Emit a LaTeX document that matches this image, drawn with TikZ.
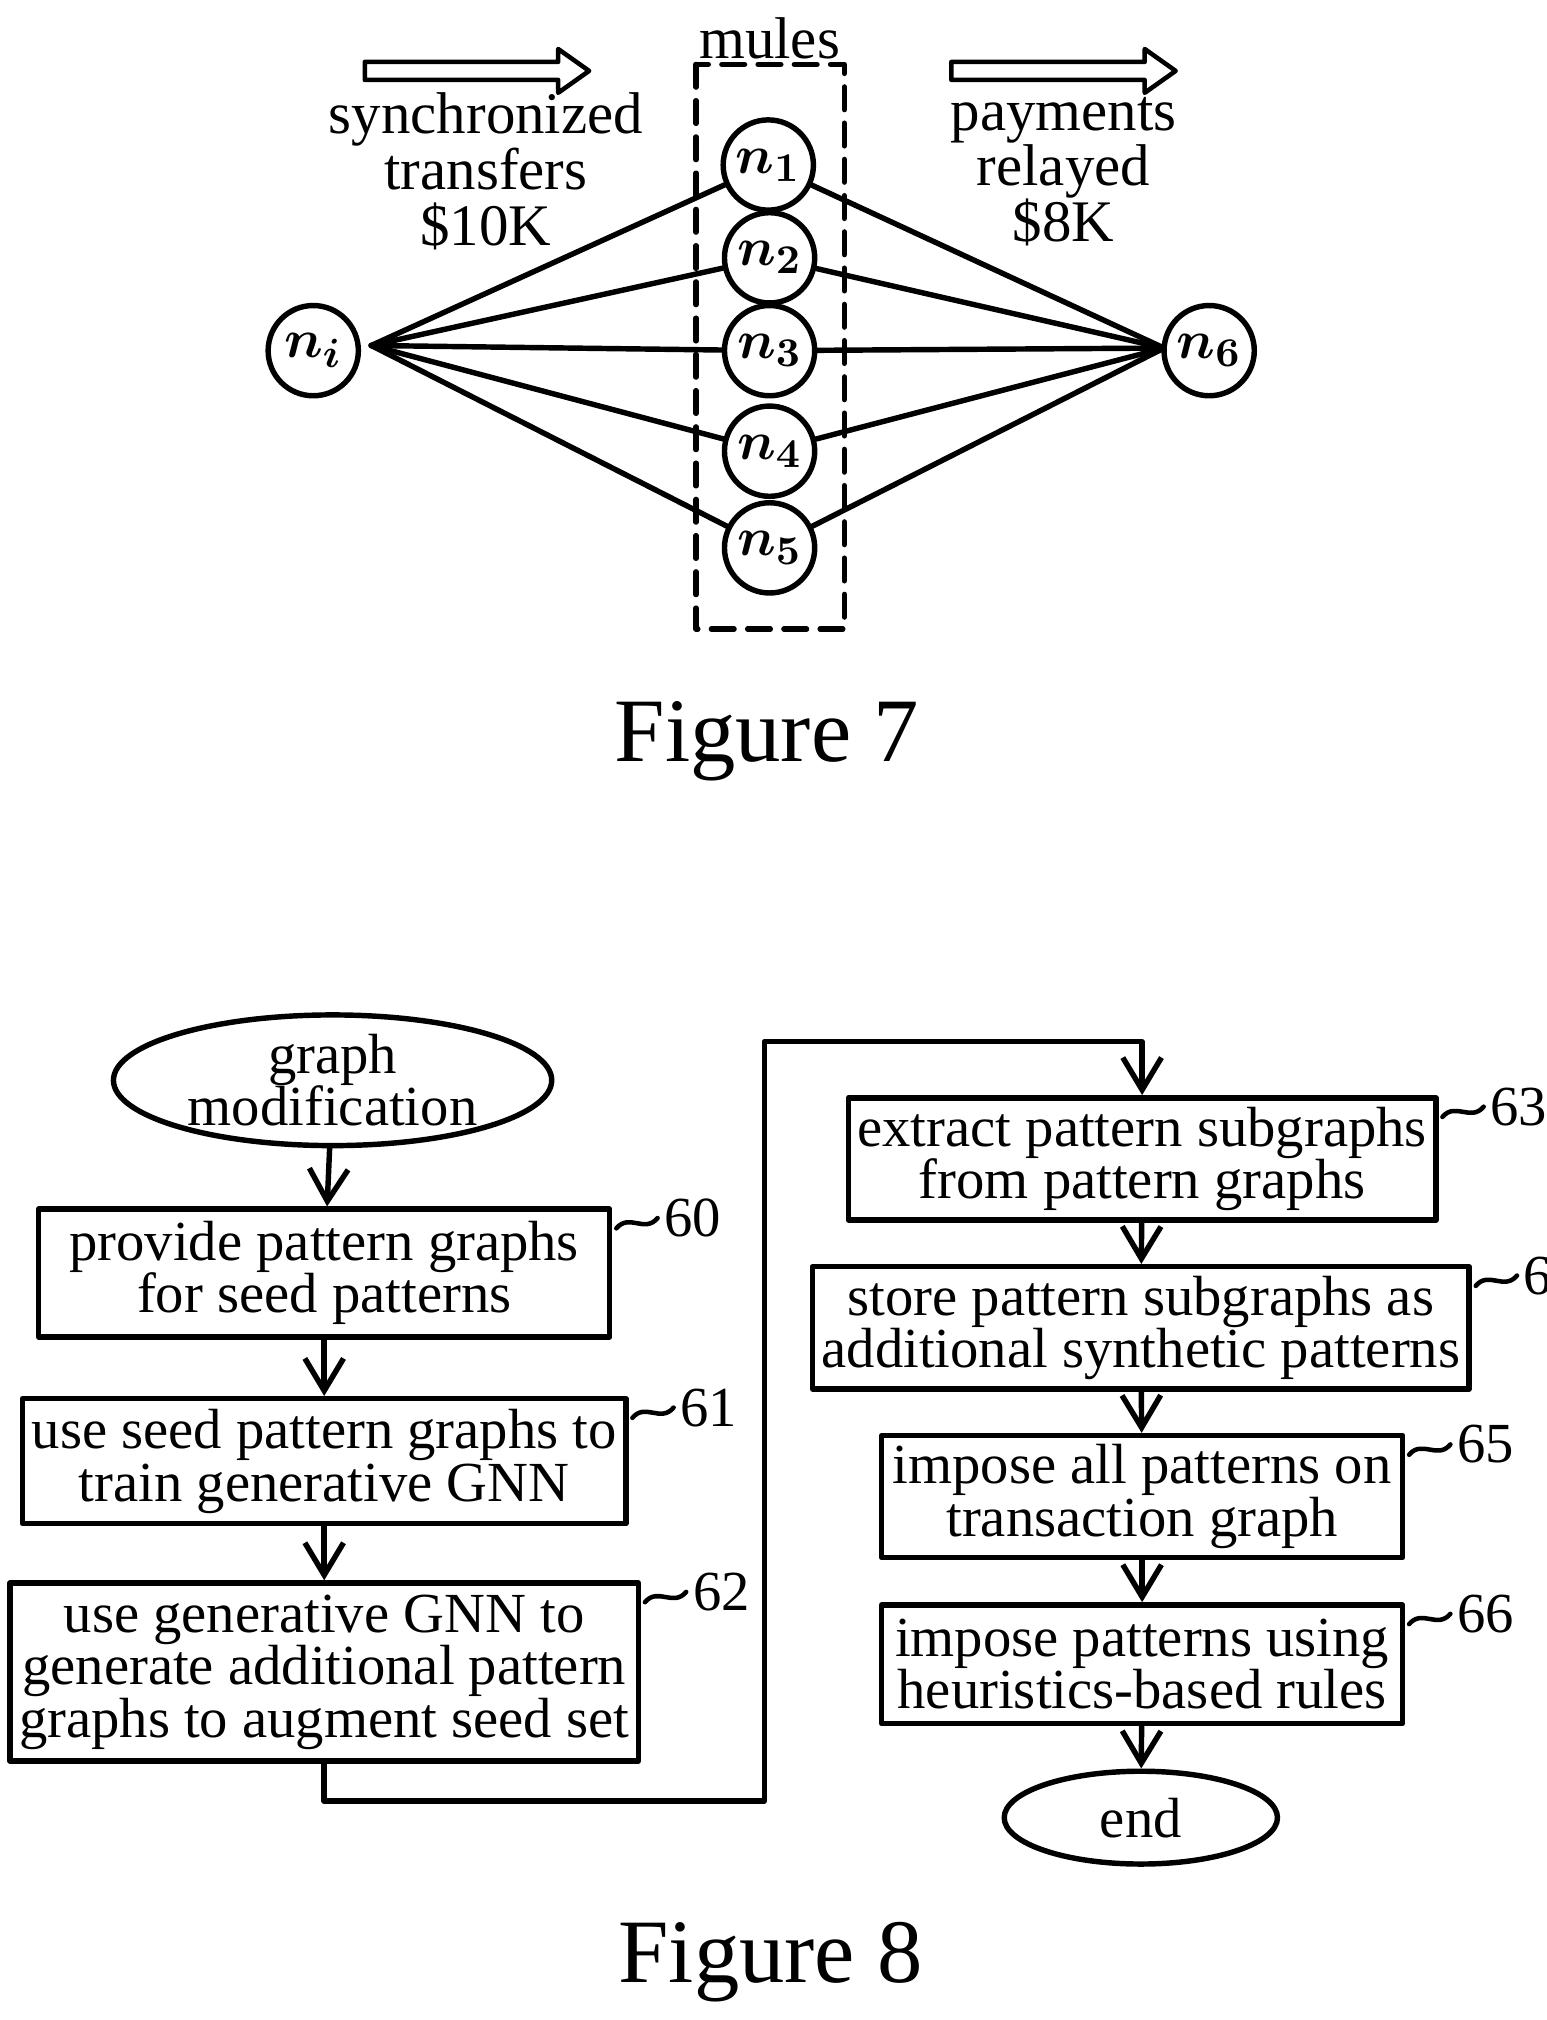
\documentclass[tikz,border=0pt]{standalone}
\usepackage{amsmath,bm}
\usepackage{fontspec}
\setmainfont{Liberation Serif}
\usetikzlibrary{positioning,shapes.geometric,calc,arrows.meta}
\tikzset{
  acct/.style={circle, draw, line width=1.2pt, minimum size=0.7cm, inner sep=0pt, font=\fontsize{13}{13}\selectfont\bfseries},
  task/.style={rectangle, draw, line width=1.2pt, align=center, inner sep=2pt, font=\fontsize{12.5}{11.6}\selectfont},
  term/.style={ellipse, draw, line width=1.2pt, align=center, inner sep=0pt, font=\fontsize{12.5}{11.6}\selectfont},
  flow/.style={line width=1.2pt, -{Straight Barb[length=2.5mm, width=3mm]}},
  edge/.style={line width=1.2pt},
  tag/.style={line width=1pt},
}
\newcommand{\refmark}[2]{%
  \draw[tag] ($(#1.north east)+(0.03,-0.17)$) .. controls +(0.1,0.12) and +(-0.1,-0.12) .. ++(0.32,0.08)
    node[right, inner sep=1pt, font=\fontsize{12.5}{12}\selectfont] {#2};}
\begin{document}
\begin{tikzpicture}[line cap=round, line join=round, x=1cm, y=1cm]
  \useasboundingbox (0,0) rectangle (12,-15.67);

  % Figure 7
  \node[acct] (ni) at (2.43,-2.72) {$\bm{n_i}$};
  \node[acct] (n1) at (5.96,-1.28) {$\bm{n_1}$};
  \node[acct] (n2) at (5.97,-2.00) {$\bm{n_2}$};
  \node[acct] (n3) at (5.97,-2.72) {$\bm{n_3}$};
  \node[acct] (n4) at (5.97,-3.50) {$\bm{n_4}$};
  \node[acct] (n5) at (5.97,-4.25) {$\bm{n_5}$};
  \node[acct] (n6) at (9.38,-2.72) {$\bm{n_6}$};
  \coordinate (src) at (2.88,-2.68);
  \coordinate (dst) at (9.03,-2.70);
  \foreach \k in {1,...,5} {
    \draw[edge] (src) -- (n\k);
    \draw[edge] (n\k) -- (dst);
  }
  \draw[edge, dash pattern=on 5pt off 3pt] (5.40,-0.50) rectangle (6.55,-4.88);
  \node[font=\fontsize{13}{13}\selectfont] (mules) at (5.97,-0.30) {mules};

  \draw[line width=1pt] (2.83,-0.48) -- (4.33,-0.48) -- (4.33,-0.38) -- (4.57,-0.55)
    -- (4.33,-0.72) -- (4.33,-0.62) -- (2.83,-0.62) -- cycle;
  \draw[line width=1pt] (7.38,-0.48) -- (8.88,-0.48) -- (8.88,-0.38) -- (9.12,-0.55)
    -- (8.88,-0.72) -- (8.88,-0.62) -- (7.38,-0.62) -- cycle;
  \node[align=center, font=\fontsize{13}{12.3}\selectfont] (sync) at (3.77,-1.33)
    {synchronized\\transfers\\\$10K};
  \node[align=center, font=\fontsize{13}{12.3}\selectfont] (relay) at (8.25,-1.33)
    {payments\\relayed\\\$8K};

  \node[font=\fontsize{20}{20}\selectfont] (fig7) at (5.95,-5.75) {Figure 7};

  % Figure 8
  \node[term, minimum width=3.4cm, minimum height=0.8cm] (start) at (2.58,-8.38) {graph\\modification};
  \node[task, minimum width=4.43cm, minimum height=0.99cm] (b60) at (2.515,-9.875) {provide pattern graphs\\for seed patterns};
  \node[task, minimum width=4.43cm, minimum height=0.97cm] (b61) at (2.515,-11.335) {use seed pattern graphs to\\train generative GNN};
  \node[task, minimum width=4.69cm, minimum height=1.38cm] (b62) at (2.515,-12.97) {use generative GNN to\\generate additional pattern\\graphs to augment seed set};
  \node[task, minimum width=4.04cm, minimum height=0.94cm] (b63) at (8.86,-8.99) {extract pattern subgraphs\\from pattern graphs};
  \node[task, minimum width=4.50cm, minimum height=0.94cm] (b64) at (8.85,-10.30) {store pattern subgraphs as\\additional synthetic patterns};
  \node[task, minimum width=4.04cm, minimum height=0.92cm] (b65) at (8.86,-11.61) {impose all patterns on\\transaction graph};
  \node[task, minimum width=4.04cm, minimum height=0.92cm] (b66) at (8.86,-12.91) {impose patterns using\\heuristics-based rules};
  \node[term, minimum width=2.12cm, minimum height=0.72cm] (stop) at (8.85,-14.10) {end};

  \draw[flow] (start) -- (b60);
  \draw[flow] (b60) -- (b61);
  \draw[flow] (b61) -- (b62);
  \draw[flow] (b62.south) -- ++(0,-0.29) -| (5.93,-8.08) -| (b63.north);
  \draw[flow] (b63) -- (b64);
  \draw[flow] (b64) -- (b65);
  \draw[flow] (b65) -- (b66);
  \draw[flow] (b66) -- (stop);

  \refmark{b60}{60}
  \refmark{b61}{61}
  \refmark{b62}{62}
  \refmark{b63}{63}
  \refmark{b64}{64}
  \refmark{b65}{65}
  \refmark{b66}{66}

  \node[font=\fontsize{20}{20}\selectfont] (fig8) at (5.98,-15.22) {Figure 8};
\end{tikzpicture}
\end{document}
